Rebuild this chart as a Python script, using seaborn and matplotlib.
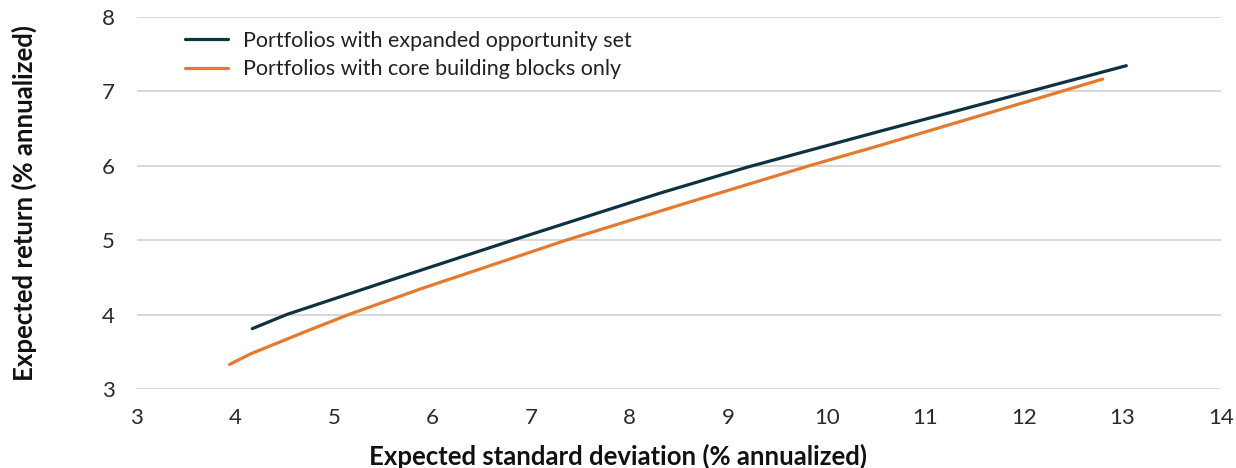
import pandas as pd
import matplotlib.pyplot as plt
import seaborn as sns

# frontier points (std dev, return), % annualized
expanded_sd = [4.17, 4.52, 5.57, 6.82, 8.31, 9.20, 10.54, 13.04]
expanded_ret = [3.81, 4.00, 4.46, 5.00, 5.63, 5.98, 6.46, 7.34]
core_sd = [3.94, 4.15, 4.69, 5.15, 5.87, 7.36, 8.51, 9.83, 10.54, 12.80]
core_ret = [3.33, 3.47, 3.76, 4.00, 4.34, 5.00, 5.47, 6.00, 6.27, 7.16]

label_expanded = 'Portfolios with expanded opportunity set'
label_core = 'Portfolios with core building blocks only'

x_ticks = [3, 4, 5, 6, 7, 8, 9, 10, 11, 12, 13, 14]
y_ticks = [3, 4, 5, 6, 7, 8]

df = pd.concat([
    pd.DataFrame({'sd': expanded_sd, 'ret': expanded_ret, 'series': label_expanded}),
    pd.DataFrame({'sd': core_sd, 'ret': core_ret, 'series': label_core}),
])

sns.set_theme(style='white')
plt.rcParams['font.family'] = ['Lato', 'DejaVu Sans']

fig = plt.figure(figsize=(12.36, 4.68), dpi=100)
ax = fig.add_axes([0.1108, 0.1688, 0.877, 0.7959])

sns.lineplot(data=df, x='sd', y='ret', hue='series', sort=False, estimator=None,
             palette={label_expanded: '#0e3242', label_core: '#e8792c'},
             linewidth=2.3, ax=ax)

ax.set_xlim(3, 14)
ax.set_ylim(3, 8)
ax.set_xticks(x_ticks)
ax.set_yticks(y_ticks)
ax.yaxis.grid(True, color='#d2d2d2', linewidth=1.2)
ax.set_axisbelow(True)
for s in ax.spines.values():
    s.set_visible(False)
ax.tick_params(axis='x', length=0, pad=14, labelsize=16, labelcolor='#2a2a2a')
ax.tick_params(axis='y', length=0, pad=16, labelsize=16, labelcolor='#2a2a2a')

ax.set_xlabel('')
ax.set_ylabel('')
fig.text(0.5, 0.026, 'Expected standard deviation (% annualized)', ha='center',
         va='center', fontsize=18.5, fontweight='bold', color='#111111')
fig.text(24 / 1236, 0.566, 'Expected return (% annualized)', ha='center',
         va='center', rotation=90, fontsize=18.5, fontweight='bold', color='#111111')

leg = ax.legend(loc='upper left', bbox_to_anchor=(0.044, 0.962), frameon=False,
                fontsize=15.5, handlelength=2.0, handletextpad=0.7, labelspacing=0.4,
                borderpad=0, borderaxespad=0)
for t in leg.get_texts():
    t.set_color('#222222')

fig.savefig('out.png', dpi=100)
